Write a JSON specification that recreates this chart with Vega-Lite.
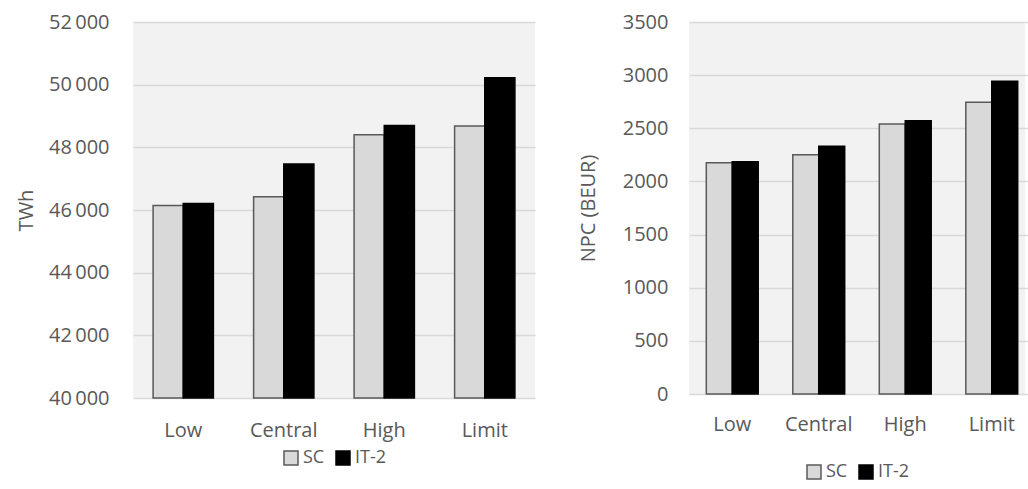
{
  "$schema": "https://vega.github.io/schema/vega-lite/v6.json",
  "background": "white",
  "padding": {"left": 16, "top": 12, "right": 0, "bottom": 0},
  "config": {
    "font": "Open Sans",
    "view": {"fill": "#f2f2f2", "stroke": null},
    "axis": {
      "labelColor": "#595959",
      "titleColor": "#595959",
      "labelFontSize": 20,
      "titleFontSize": 20,
      "titleFontWeight": "normal",
      "domain": false,
      "ticks": false,
      "gridColor": "#d9d9d9",
      "gridWidth": 1.5
    },
    "legend": {
      "orient": "bottom",
      "direction": "horizontal",
      "title": null,
      "symbolType": "square",
      "symbolSize": 196,
      "symbolStrokeWidth": 1.5,
      "labelFontSize": 18,
      "labelColor": "#595959",
      "columnPadding": 8,
      "labelOffset": 3,
      "layout": {"bottom": {"anchor": "middle"}}
    },
    "concat": {"spacing": 43}
  },
  "datasets": {
    "energy": [
      {"scenario": "Low", "series": "SC", "value": 46140},
      {"scenario": "Low", "series": "IT-2", "value": 46210},
      {"scenario": "Central", "series": "SC", "value": 46420},
      {"scenario": "Central", "series": "IT-2", "value": 47470},
      {"scenario": "High", "series": "SC", "value": 48400},
      {"scenario": "High", "series": "IT-2", "value": 48700},
      {"scenario": "Limit", "series": "SC", "value": 48680},
      {"scenario": "Limit", "series": "IT-2", "value": 50220}
    ],
    "cost": [
      {"scenario": "Low", "series": "SC", "value": 2175},
      {"scenario": "Low", "series": "IT-2", "value": 2185},
      {"scenario": "Central", "series": "SC", "value": 2250},
      {"scenario": "Central", "series": "IT-2", "value": 2330},
      {"scenario": "High", "series": "SC", "value": 2540},
      {"scenario": "High", "series": "IT-2", "value": 2570},
      {"scenario": "Limit", "series": "SC", "value": 2745},
      {"scenario": "Limit", "series": "IT-2", "value": 2942}
    ]
  },
  "resolve": {
    "scale": {"color": "independent", "stroke": "independent", "x": "independent", "y": "independent", "xOffset": "independent"}
  },
  "hconcat": [
    {
      "width": 402,
      "height": 376,
      "data": {"name": "energy"},
      "mark": {"type": "bar", "strokeWidth": 1.5},
      "encoding": {
        "x": {
          "field": "scenario",
          "type": "nominal",
          "sort": ["Low", "Central", "High", "Limit"],
          "scale": {"paddingInner": 0.4, "paddingOuter": 0.2},
          "axis": {"title": null, "labelAngle": 0, "labelPadding": 22, "grid": false}
        },
        "xOffset": {
          "field": "series",
          "sort": ["SC", "IT-2"],
          "scale": {"paddingInner": 0, "paddingOuter": 0}
        },
        "y": {
          "field": "value",
          "type": "quantitative",
          "scale": {"domain": [40000, 52000], "zero": false, "nice": false},
          "axis": {
            "title": "TWh",
            "values": [40000, 42000, 44000, 46000, 48000, 50000, 52000],
            "labelExpr": "replace(format(datum.value, ','), ',', '\u2009')",
            "labelPadding": 24,
            "titlePadding": 12
          }
        },
        "y2": {"datum": 40000},
        "color": {
          "field": "series",
          "type": "nominal",
          "sort": ["SC", "IT-2"],
          "scale": {"domain": ["SC", "IT-2"], "range": ["#d9d9d9", "#000000"]},
          "legend": {"offset": 9}
        },
        "stroke": {
          "field": "series",
          "type": "nominal",
          "sort": ["SC", "IT-2"],
          "scale": {"domain": ["SC", "IT-2"], "range": ["#595959", "#000000"]},
          "legend": {"offset": 9}
        }
      }
    },
    {
      "width": 336,
      "height": 372,
      "data": {"name": "cost"},
      "mark": {"type": "bar", "strokeWidth": 1.5},
      "encoding": {
        "x": {
          "field": "scenario",
          "type": "nominal",
          "sort": ["Low", "Central", "High", "Limit"],
          "scale": {"paddingInner": 0.4, "paddingOuter": 0.2, "range": [0, 346]},
          "axis": {"title": null, "labelAngle": 0, "labelPadding": 20, "grid": false}
        },
        "xOffset": {
          "field": "series",
          "sort": ["SC", "IT-2"],
          "scale": {"paddingInner": 0, "paddingOuter": 0}
        },
        "y": {
          "field": "value",
          "type": "quantitative",
          "scale": {"domain": [0, 3500], "nice": false},
          "axis": {
            "title": "NPC (BEUR)",
            "values": [0, 500, 1000, 1500, 2000, 2500, 3000, 3500],
            "format": "d",
            "labelPadding": 21,
            "titlePadding": 24
          }
        },
        "color": {
          "field": "series",
          "type": "nominal",
          "sort": ["SC", "IT-2"],
          "scale": {"domain": ["SC", "IT-2"], "range": ["#d9d9d9", "#000000"]},
          "legend": {"offset": 29}
        },
        "stroke": {
          "field": "series",
          "type": "nominal",
          "sort": ["SC", "IT-2"],
          "scale": {"domain": ["SC", "IT-2"], "range": ["#595959", "#000000"]},
          "legend": {"offset": 29}
        }
      }
    }
  ]
}
